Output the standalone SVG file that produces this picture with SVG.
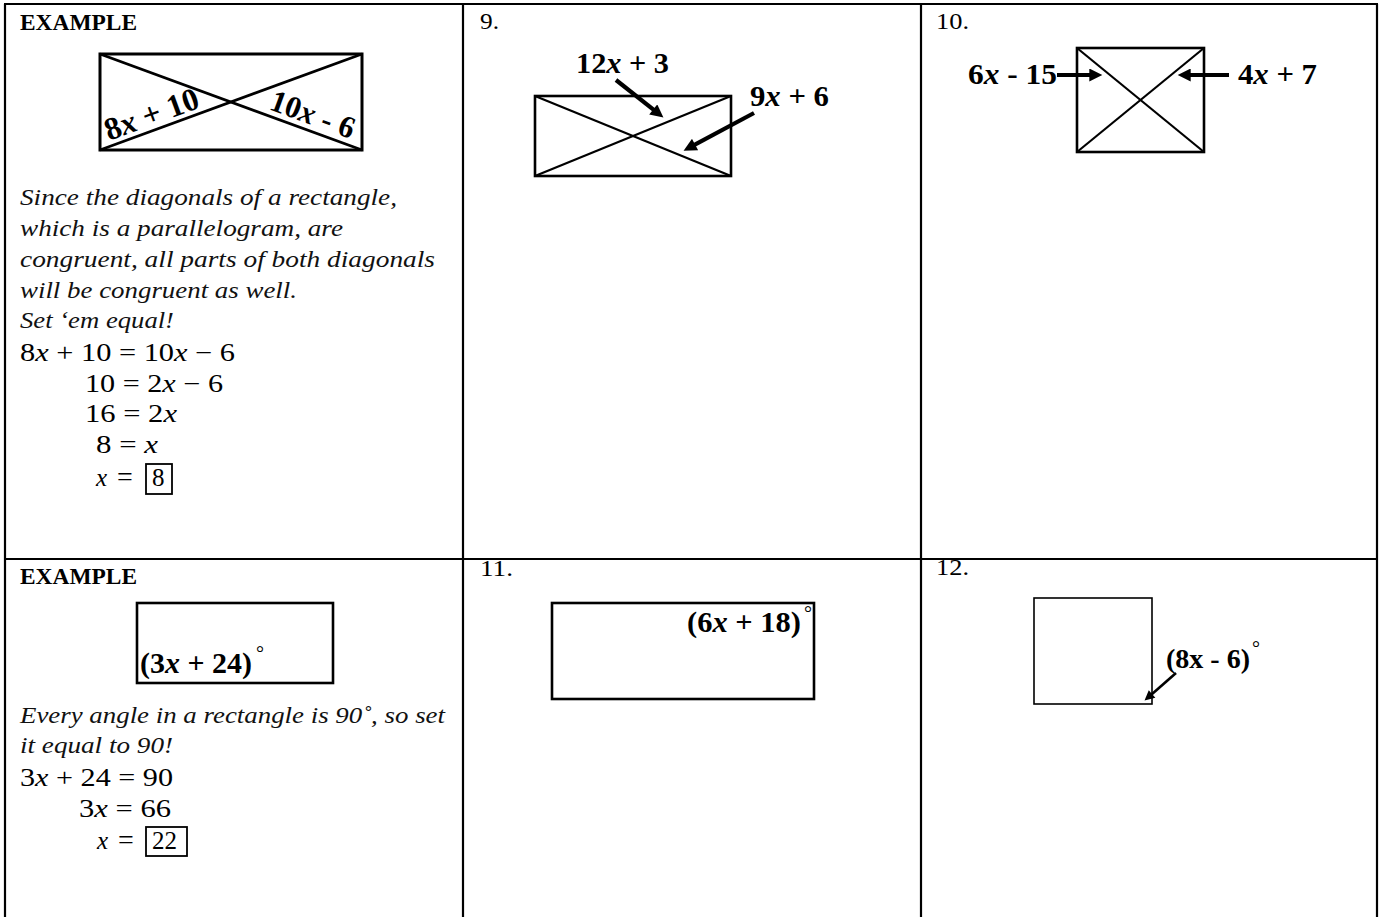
<svg xmlns="http://www.w3.org/2000/svg" width="1380" height="917" viewBox="0 0 1380 917">
<style>
.grid{stroke:#000;stroke-width:2.2;fill:none}
.shape{stroke:#000;stroke-width:2.6;fill:#fff}
.thin{stroke:#000;stroke-width:1.6;fill:#fff}
.diag{stroke:#000;stroke-width:2.2}
.diag3{stroke:#000;stroke-width:2.8}
.arr{stroke:#000;stroke-width:4.2;fill:none}
.arrthin{stroke:#000;stroke-width:2.6;fill:none}
.hd{font-family:"Liberation Serif",serif;font-weight:bold;font-size:23px;fill:#000}
.num{font-family:"Liberation Serif",serif;font-size:24px;fill:#000}
.it{font-family:"Liberation Serif",serif;font-style:italic;font-size:24px;fill:#111}
.math{font-family:"Liberation Serif",serif;font-size:25px;fill:#000}
.lbl{font-family:"Liberation Serif",serif;font-weight:bold;font-size:30px;fill:#000}
.deg{font-family:"Liberation Serif",serif;font-size:20px;fill:#000}
.i{font-style:italic}
</style>
<defs>
<marker id="ah" viewBox="0 0 10 10" refX="3" refY="5" markerUnits="userSpaceOnUse" markerWidth="14" markerHeight="13" orient="auto"><path d="M0,0 L10,5 L0,10 z" fill="#000"/></marker>
<marker id="ahs" viewBox="0 0 10 10" refX="3" refY="5" markerUnits="userSpaceOnUse" markerWidth="11" markerHeight="10" orient="auto"><path d="M0,0 L10,5 L0,10 z" fill="#000"/></marker>
</defs>
<rect width="1380" height="917" fill="#fff"/>
<g id="table">
<line class="grid" x1="4" y1="4" x2="1378" y2="4"/>
<line class="grid" x1="5" y1="4" x2="5" y2="917"/>
<line class="grid" x1="463" y1="4" x2="463" y2="917"/>
<line class="grid" x1="921" y1="4" x2="921" y2="917"/>
<line class="grid" x1="1377" y1="4" x2="1377" y2="917"/>
<line class="grid" x1="4" y1="559" x2="1378" y2="559"/>
</g>
<g id="example1">
<text class="hd" x="20" y="30" textLength="117" lengthAdjust="spacingAndGlyphs">EXAMPLE</text>
<rect class="shape" x="100" y="54" width="262" height="96" style="stroke-width:3"/>
<line class="diag3" x1="100" y1="54" x2="362" y2="150"/>
<line class="diag3" x1="100" y1="150" x2="362" y2="54"/>
<text class="lbl" transform="translate(109,141) rotate(-20.1)" style="font-size:32px">8<tspan class="i">x</tspan> + 10</text>
<text class="lbl" transform="translate(268,109) rotate(20.1)" style="font-size:31px">10<tspan class="i">x</tspan> - 6</text>
<text class="it" x="20" y="205" textLength="377" lengthAdjust="spacingAndGlyphs">Since the diagonals of a rectangle,</text>
<text class="it" x="20" y="236" textLength="323" lengthAdjust="spacingAndGlyphs">which is a parallelogram, are</text>
<text class="it" x="20" y="267" textLength="415" lengthAdjust="spacingAndGlyphs">congruent, all parts of both diagonals</text>
<text class="it" x="20" y="298" textLength="277" lengthAdjust="spacingAndGlyphs">will be congruent as well.</text>
<text class="it" x="20" y="328" textLength="154" lengthAdjust="spacingAndGlyphs">Set ‘em equal!</text>
<text class="math" x="20" y="361" textLength="215" lengthAdjust="spacingAndGlyphs">8<tspan class="i">x</tspan> + 10 = 10<tspan class="i">x</tspan> − 6</text>
<text class="math" x="85" y="392" textLength="138" lengthAdjust="spacingAndGlyphs">10 = 2<tspan class="i">x</tspan> − 6</text>
<text class="math" x="85" y="422" textLength="92" lengthAdjust="spacingAndGlyphs">16 = 2<tspan class="i">x</tspan></text>
<text class="math" x="96" y="453" textLength="62" lengthAdjust="spacingAndGlyphs">8 = <tspan class="i">x</tspan></text>
<text class="math" x="96" y="486"><tspan class="i">x</tspan><tspan x="117" style="font-size:28px">=</tspan></text>
<rect x="146" y="464" width="26" height="30" fill="none" stroke="#000" stroke-width="1.8"/>
<text class="math" x="152" y="486">8</text>
</g>
<g id="problem9">
<text class="num" x="480" y="29" textLength="19" lengthAdjust="spacingAndGlyphs">9.</text>
<rect class="shape" x="535" y="96" width="196" height="80"/>
<line class="diag" x1="535" y1="96" x2="731" y2="176"/>
<line class="diag" x1="535" y1="176" x2="731" y2="96"/>
<text class="lbl" x="576" y="73" textLength="93" lengthAdjust="spacingAndGlyphs">12<tspan class="i">x</tspan> + 3</text>
<text class="lbl" x="750" y="106" textLength="79" lengthAdjust="spacingAndGlyphs">9<tspan class="i">x</tspan> + 6</text>
</g>
<g id="problem10">
<text class="num" x="936" y="29" textLength="33" lengthAdjust="spacingAndGlyphs">10.</text>
<rect class="shape" x="1077" y="48" width="127" height="104"/>
<line class="diag" x1="1077" y1="48" x2="1204" y2="152"/>
<line class="diag" x1="1077" y1="152" x2="1204" y2="48"/>
<text class="lbl" x="968" y="84" textLength="89" lengthAdjust="spacingAndGlyphs">6<tspan class="i">x</tspan> - 15</text>
<text class="lbl" x="1238" y="84" textLength="79" lengthAdjust="spacingAndGlyphs">4<tspan class="i">x</tspan> + 7</text>
</g>
<g id="example2">
<text class="hd" x="20" y="584" textLength="117" lengthAdjust="spacingAndGlyphs">EXAMPLE</text>
<rect class="shape" x="137" y="603" width="196" height="80"/>
<text class="lbl" x="140" y="673" textLength="112" lengthAdjust="spacingAndGlyphs">(3<tspan class="i">x</tspan> + 24)</text>
<text class="deg" x="256" y="660">°</text>
<text class="it" x="20" y="723" textLength="425" lengthAdjust="spacingAndGlyphs">Every angle in a rectangle is 90˚, so set</text>
<text class="it" x="20" y="753" textLength="153" lengthAdjust="spacingAndGlyphs">it equal to 90!</text>
<text class="math" x="20" y="786" textLength="153" lengthAdjust="spacingAndGlyphs">3<tspan class="i">x</tspan> + 24 = 90</text>
<text class="math" x="79" y="817" textLength="92" lengthAdjust="spacingAndGlyphs">3<tspan class="i">x</tspan> = 66</text>
<text class="math" x="97" y="849"><tspan class="i">x</tspan><tspan x="118" style="font-size:28px">=</tspan></text>
<rect x="146" y="827" width="41" height="29" fill="none" stroke="#000" stroke-width="1.8"/>
<text class="math" x="152" y="849">22</text>
</g>
<g id="problem11">
<text class="num" x="480" y="576" textLength="33" lengthAdjust="spacingAndGlyphs">11.</text>
<rect class="shape" x="552" y="603" width="262" height="96"/>
<text class="lbl" x="687" y="632" textLength="114" lengthAdjust="spacingAndGlyphs">(6<tspan class="i">x</tspan> + 18)</text>
<text class="deg" x="804" y="620">°</text>
</g>
<g id="problem12">
<text class="num" x="936" y="575" textLength="33" lengthAdjust="spacingAndGlyphs">12.</text>
<rect class="thin" x="1034" y="598" width="118" height="106"/>
<text class="lbl" x="1166" y="668" style="font-size:28px">(8x - 6)</text>
<text class="deg" x="1252" y="655">°</text>
</g>
<g id="connectors">
<line class="arr" x1="616" y1="80" x2="656.3" y2="111.9" marker-end="url(#ah)"/>
<line class="arr" x1="754" y1="113" x2="691.6" y2="146.4" marker-end="url(#ah)"/>
<line class="arr" x1="1057" y1="75" x2="1093.2" y2="75" marker-end="url(#ah)"/>
<line class="arr" x1="1229" y1="75" x2="1186.8" y2="75" marker-end="url(#ah)"/>
<line class="arrthin" x1="1176" y1="673" x2="1149.8" y2="695.9" marker-end="url(#ahs)"/>
</g>
</svg>
